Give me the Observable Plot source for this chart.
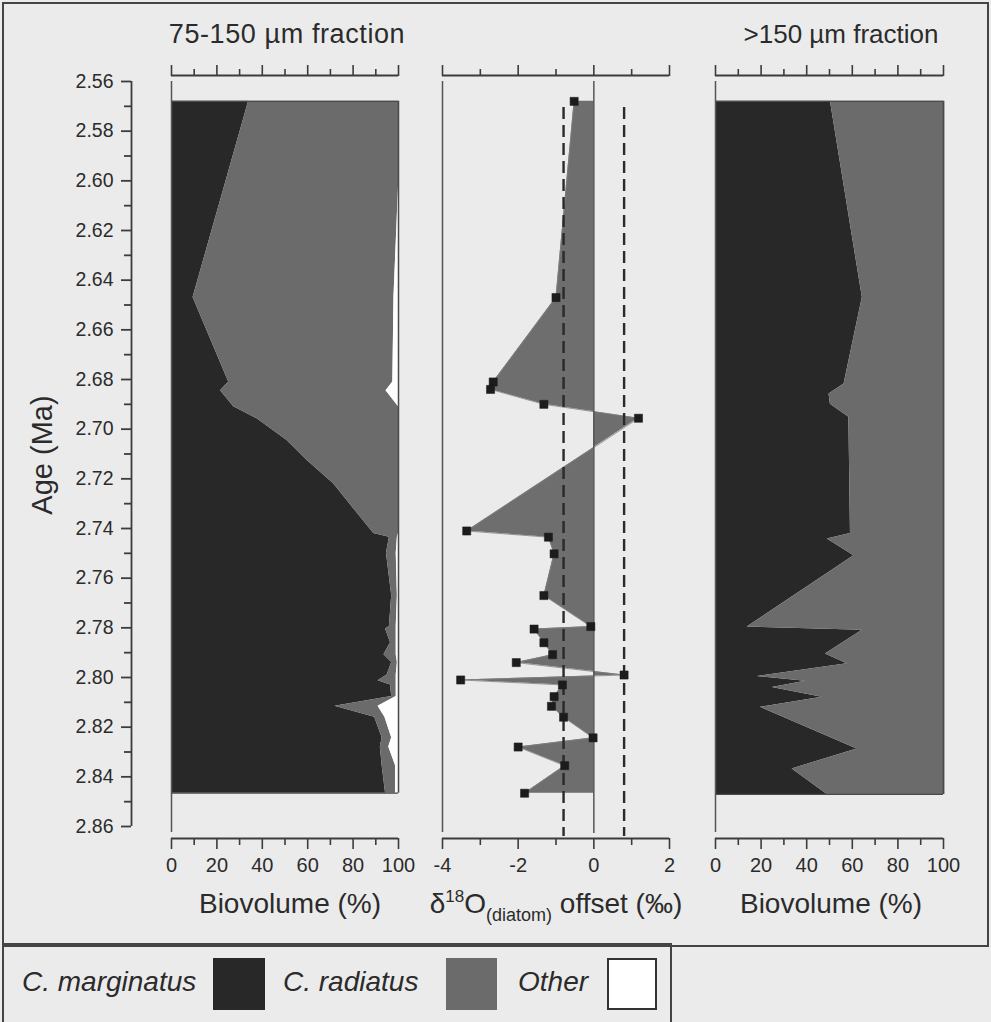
<!DOCTYPE html>
<html>
<head>
<meta charset="utf-8">
<script src="https://cdn.jsdelivr.net/npm/d3@7"></script>
<script src="https://cdn.jsdelivr.net/npm/@observablehq/plot@0.6"></script>
<style>
  html, body { margin: 0; padding: 0; background: #ebebeb; }
  #fig { position: relative; width: 991px; height: 1022px; overflow: hidden;
         font-family: "Liberation Sans", Arial, sans-serif; color: #2b2b2b; }
  .panel { position: absolute; top: 0; }
  .title { position: absolute; font-size: 27px; line-height: 32px; white-space: nowrap; transform: translateX(-50%); }
  .xlabel { position: absolute; font-size: 28px; line-height: 32px; white-space: nowrap; transform: translateX(-50%); }
  .xlabel sup { font-size: 17px; vertical-align: baseline; position: relative; top: -11px; }
  .xlabel sub { font-size: 18px; vertical-align: baseline; position: relative; top: 8px; }
  .frame { position: absolute; border: 2px solid #444; box-sizing: border-box; }
  .leg-text { position: absolute; font-size: 28px; line-height: 32px; font-style: italic; white-space: nowrap; }
  .swatch { position: absolute; box-sizing: border-box; }
</style>
</head>
<body>
<div id="fig"></div>
<script>
// ---------------- data ----------------
const speciesNames  = ["C. marginatus", "C. radiatus", "Other"];
const speciesColors = ["#282828", "#6b6b6b", "#ffffff"];

// 75-150 µm fraction (biovolume %)
const leftAge   = [2.568, 2.6025, 2.647, 2.681, 2.6845, 2.691, 2.6958, 2.7046, 2.7126, 2.722, 2.7355, 2.742, 2.7435, 2.750, 2.767, 2.7795, 2.7805, 2.786, 2.7908, 2.794, 2.799, 2.8013, 2.803, 2.8077, 2.8116, 2.816, 2.8243, 2.828, 2.8355, 2.8466];
const leftMarg  = [34, 23.3, 9.5, 25.2, 21.6, 27.4, 37.7, 50.9, 59.8, 71.4, 83.3, 89.1, 96, 94.7, 97, 96, 94.3, 96.5, 93.6, 97, 95, 91, 96.5, 97, 72, 89.5, 92.8, 92, 92.8, 94.3];
const leftRad   = [66, 76.7, 88.5, 72.3, 72.9, 72.6, 62.3, 49.1, 40.2, 28.6, 16.7, 10.9, 3.5, 4.3, 2.5, 3, 4.7, 2.5, 5.4, 2.5, 4, 8, 2.5, 2, 19, 4.5, 4.2, 3.7, 5.9, 4.4];
const leftOther = [0, 0, 2, 2.5, 5.5, 0, 0, 0, 0, 0, 0, 0, 0.5, 1, 0.5, 1, 1, 1, 1, 0.5, 1, 1, 1, 1, 9, 6, 3, 4.3, 1.3, 1.3];

// >150 µm fraction (biovolume %)
const rightAge   = [2.568, 2.647, 2.6818, 2.6858, 2.690, 2.6952, 2.742, 2.7442, 2.751, 2.7797, 2.781, 2.7905, 2.7945, 2.7996, 2.8015, 2.804, 2.808, 2.812, 2.8288, 2.8368, 2.8471];
const rightMarg  = [50.4, 64.4, 56.4, 49.8, 50.4, 58.5, 59.2, 49, 60.7, 13.9, 64.4, 48.2, 57.8, 18.3, 39.5, 24.9, 46.8, 19.7, 62.1, 33.6, 49];
const rightRad   = [49.6, 35.6, 43.6, 50.2, 49.6, 41.5, 40.8, 51, 39.3, 86.1, 35.6, 51.8, 42.2, 81.7, 60.5, 75.1, 53.2, 80.3, 37.9, 66.4, 51];
const rightOther = [0, 0, 0, 0, 0, 0, 0, 0, 0, 0, 0, 0, 0, 0, 0, 0, 0, 0, 0, 0, 0];

// d18O(diatom) offset (‰)
const midAge    = [2.568, 2.647, 2.681, 2.684, 2.690, 2.6956, 2.741, 2.7435, 2.7502, 2.767, 2.7795, 2.7805, 2.786, 2.7908, 2.794, 2.799, 2.801, 2.803, 2.8077, 2.8116, 2.816, 2.8243, 2.828, 2.8355, 2.8466];
const midOffset = [-0.52, -1.0, -2.66, -2.73, -1.32, 1.18, -3.36, -1.2, -1.05, -1.32, -0.08, -1.58, -1.32, -1.09, -2.05, 0.80, -3.52, -0.83, -1.05, -1.12, -0.80, -0.02, -2.0, -0.77, -1.83];
const offsetLimits = [-0.8, 0.8];

// ticks
const ageDomain      = [2.56, 2.86];
const ageTicks       = [2.56, 2.58, 2.60, 2.62, 2.64, 2.66, 2.68, 2.70, 2.72, 2.74, 2.76, 2.78, 2.80, 2.82, 2.84, 2.86];
const ageMinorTicks  = [2.57, 2.59, 2.61, 2.63, 2.65, 2.67, 2.69, 2.71, 2.73, 2.75, 2.77, 2.79, 2.81, 2.83, 2.85];
const pctDomain      = [0, 100];
const pctTicks       = [0, 20, 40, 60, 80, 100];
const pctMinorTicks  = [10, 30, 50, 70, 90];
const offDomain      = [-4, 2];
const offTicks       = [-4, -2, 0, 2];
const offMinorTicks  = [-3, -1, 1];

// -------------- helpers ---------------
const FONT = '"Liberation Sans", Arial, sans-serif';
const AX = "#3c3c3c";

function tidy(ages, seriesList) {
  const rows = [];
  ages.forEach((a, i) => {
    seriesList.forEach((s, k) => rows.push({age: a, species: speciesNames[k], value: s[i]}));
  });
  return rows;
}

function xAxes(domain, major, minor, fmt) {
  const blank = () => "";
  return [
    Plot.axisX(major, {anchor: "top", tickSize: 11, tickFormat: blank, label: null, stroke: AX, strokeWidth: 1.6}),
    Plot.axisX(minor, {anchor: "top", tickSize: 7, tickFormat: blank, label: null, stroke: AX, strokeWidth: 1.6}),
    Plot.axisX(major, {anchor: "bottom", tickSize: 11, tickPadding: 8, tickFormat: fmt, label: null, stroke: AX, strokeWidth: 1.6, fontSize: 20, fill: "#2b2b2b"}),
    Plot.axisX(minor, {anchor: "bottom", tickSize: 7, tickFormat: blank, label: null, stroke: AX, strokeWidth: 1.6}),
    Plot.ruleY([ageDomain[0]], {x1: domain[0], x2: domain[1], dy: -6, stroke: AX, strokeWidth: 1.8}),
    Plot.ruleY([ageDomain[1]], {x1: domain[0], x2: domain[1], dy: 12, stroke: AX, strokeWidth: 1.8})
  ];
}

function makePlot({width, marginLeft, marginRight, xDomain, xInsetLeft = 0, yAxisOff = true, marks}) {
  return Plot.plot({
    width, height: 900,
    marginTop: 75, marginBottom: 62, marginLeft, marginRight,
    x: {domain: xDomain, insetLeft: xInsetLeft},
    y: {domain: ageDomain, reverse: true, insetTop: 6, insetBottom: 12, ...(yAxisOff ? {axis: null} : {})},
    color: {domain: speciesNames, range: speciesColors},
    style: {background: "transparent", fontFamily: FONT, fontSize: "20px", color: AX, overflow: "visible"},
    marks
  });
}

// -------------- panels ---------------
const fig = document.getElementById("fig");

// Left panel: 75-150 µm fraction
const leftData = tidy(leftAge, [leftMarg, leftRad, leftOther]);
const leftTop = leftAge[0], leftBot = leftAge[leftAge.length - 1];
const leftPlot = makePlot({
  width: 420, marginLeft: 131, marginRight: 22, xDomain: pctDomain, xInsetLeft: 40, yAxisOff: false,
  marks: [
    Plot.areaX(leftData, {y: "age", x: "value", fill: "species", order: speciesNames}),
    Plot.ruleX([100], {y1: leftTop, y2: leftBot, stroke: "#4a4a4a", strokeWidth: 1.5}),
    Plot.ruleY([leftTop, leftBot], {x1: 0, x2: 100, stroke: "#4a4a4a", strokeWidth: 1.2}),
    Plot.ruleX([0], {y1: ageDomain[0], y2: ageDomain[1], insetBottom: -6, stroke: "#555", strokeWidth: 1.5}),
    // y axis
    Plot.axisY(ageTicks, {anchor: "left", tickSize: 10, tickPadding: 8, tickFormat: d3.format(".2f"), label: null, stroke: AX, strokeWidth: 1.8, fontSize: 19.5, fill: "#2b2b2b"}),
    Plot.axisY(ageMinorTicks, {anchor: "left", tickSize: 7, tickFormat: () => "", label: null, stroke: AX, strokeWidth: 1.8}),
    Plot.ruleX([0], {y1: ageDomain[0], y2: ageDomain[1], dx: -40, stroke: AX, strokeWidth: 1.8}),
    ...xAxes(pctDomain, pctTicks, pctMinorTicks, d => String(d))
  ]
});
leftPlot.classList.add("panel");
leftPlot.style.left = "0px";
fig.appendChild(leftPlot);

// Middle panel: d18O offset
const midData = midAge.map((a, i) => ({age: a, offset: midOffset[i]}));
const midPlot = makePlot({
  width: 270, marginLeft: 22, marginRight: 21, xDomain: offDomain,
  marks: [
    Plot.areaX(midData, {y: "age", x1: 0, x2: "offset", fill: "#6e6e6e"}),
    Plot.line(midData, {y: "age", x: "offset", stroke: "#808080", strokeWidth: 0.8}),
    Plot.ruleX([offDomain[0]], {y1: ageDomain[0], y2: ageDomain[1], insetBottom: -6, stroke: "#555", strokeWidth: 1.5}),
    Plot.ruleX([0], {y1: ageDomain[0], y2: ageDomain[1], insetBottom: -7, stroke: "#555", strokeWidth: 1.5}),
    Plot.ruleX(offsetLimits, {y1: 2.5705, y2: ageDomain[1], insetBottom: -10, stroke: "#2a2a2a", strokeWidth: 2.4, strokeDasharray: "12,6"}),
    Plot.dot(midData, {y: "age", x: "offset", symbol: "square", r: 4.6, fill: "#1c1c1c", stroke: "#1c1c1c", strokeWidth: 0.5}),
    ...xAxes(offDomain, offTicks, offMinorTicks, d => String(d))
  ]
});
midPlot.classList.add("panel");
midPlot.style.left = "420px";
fig.appendChild(midPlot);

// Right panel: >150 µm fraction
const rightData = tidy(rightAge, [rightMarg, rightRad, rightOther]);
const rightTop = rightAge[0], rightBot = rightAge[rightAge.length - 1];
const rightPlot = makePlot({
  width: 280, marginLeft: 25, marginRight: 27, xDomain: pctDomain,
  marks: [
    Plot.areaX(rightData, {y: "age", x: "value", fill: "species", order: speciesNames}),
    Plot.ruleX([100], {y1: rightTop, y2: rightBot, stroke: "#4a4a4a", strokeWidth: 1.8}),
    Plot.ruleY([rightTop, rightBot], {x1: 0, x2: 100, stroke: "#4a4a4a", strokeWidth: 1.2}),
    Plot.ruleX([0], {y1: ageDomain[0], y2: ageDomain[1], insetBottom: -6, stroke: "#555", strokeWidth: 1.5}),
    ...xAxes(pctDomain, pctTicks, pctMinorTicks, d => String(d))
  ]
});
rightPlot.classList.add("panel");
rightPlot.style.left = "690px";
fig.appendChild(rightPlot);

// -------------- text & frames ---------------
function add(html, cls, css) {
  const el = document.createElement("div");
  el.className = cls;
  el.innerHTML = html;
  Object.assign(el.style, css);
  fig.appendChild(el);
  return el;
}
add("", "frame", {left: "2px", top: "2px", width: "987px", height: "945px"});
add("", "frame", {left: "2px", top: "943px", width: "670px", height: "90px"});

add("75-150 µm fraction", "title", {left: "287px", top: "18px", letterSpacing: "0.6px"});
add("&gt;150 µm fraction", "title", {left: "841px", top: "18px", fontSize: "26px"});

add("Biovolume (%)", "xlabel", {left: "290px", top: "888px"});
add("δ<sup>18</sup>O<sub>(diatom)</sub> offset (‰)", "xlabel", {left: "556px", top: "888px"});
add("Biovolume (%)", "xlabel", {left: "831px", top: "888px"});

add("Age (Ma)", "title", {left: "42px", top: "439px", fontSize: "29px", transform: "translate(-50%, 0) rotate(-90deg)", transformOrigin: "50% 50%"});

// legend
add(speciesNames[0], "leg-text", {left: "22px", top: "966px"});
add("", "swatch", {left: "213px", top: "958px", width: "52px", height: "52px", background: speciesColors[0]});
add(speciesNames[1], "leg-text", {left: "283px", top: "966px"});
add("", "swatch", {left: "446px", top: "958px", width: "51px", height: "52px", background: speciesColors[1]});
add(speciesNames[2], "leg-text", {left: "518px", top: "966px"});
add("", "swatch", {left: "607px", top: "958px", width: "50px", height: "52px", background: speciesColors[2], border: "2px solid #333"});
</script>
</body>
</html>
